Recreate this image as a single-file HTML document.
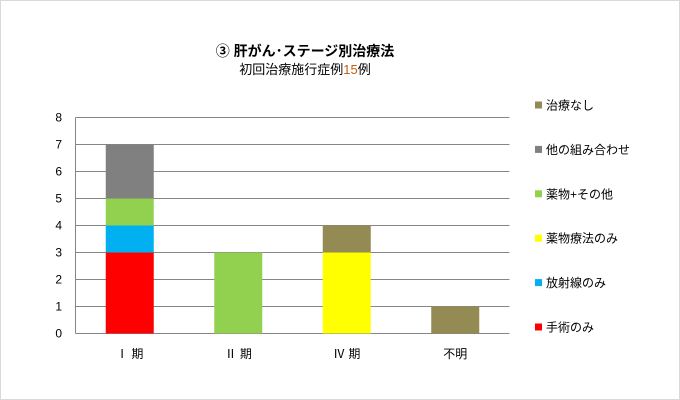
<!DOCTYPE html>
<html><head><meta charset="utf-8"><style>
body{margin:0;background:#fff;}
svg{display:block;font-family:"Liberation Sans","Noto Sans CJK JP",sans-serif;}
</style></head><body>
<svg id="c" width="680" height="400">
<rect x="0.5" y="0.5" width="679" height="399" fill="#fff" stroke="#d9d9d9"/>
<text x="305" y="56" text-anchor="middle" font-size="14" font-weight="bold" fill="#000">③ 肝がん･ステージ別治療法</text>
<text x="305" y="74" text-anchor="middle" font-size="13" fill="#000">初回治療施行症例<tspan fill="#c55a11">15</tspan>例</text>
<g id="grid"></g><g id="bars"></g><g id="axes"></g><g id="legend"></g>
</svg>
<script>
const categories=["Ⅰ 期","Ⅱ 期","Ⅳ 期","不明"];
const seriesNames=["手術のみ","放射線のみ","薬物療法のみ","薬物+その他","他の組み合わせ","治療なし"];
const seriesColors=["#ff0000","#00b0f0","#ffff00","#92d050","#808080","#948a54"];
const s1=[3,0,0,0];
const s2=[1,0,0,0];
const s3=[0,0,3,0];
const s4=[1,3,0,0];
const s5=[2,0,0,0];
const s6=[0,0,1,1];
const series=[s1,s2,s3,s4,s5,s6];
const yTicks=[0,1,2,3,4,5,6,7,8];
const NS="http://www.w3.org/2000/svg";
const L=75.5,R=509.5,T=117.5,B=333.5,yMax=8;
const y=v=>B-(v/yMax)*(B-T);
const bw=(R-L)/categories.length;
const xc=i=>L+bw*(i+0.5);
function mk(t,a,p){const e=document.createElementNS(NS,t);for(const k in a)e.setAttribute(k,a[k]);p.appendChild(e);return e;}
const grid=document.getElementById('grid'),bars=document.getElementById('bars'),axes=document.getElementById('axes'),leg=document.getElementById('legend');
yTicks.forEach(v=>{
 const l=mk('line',{x1:L,x2:R,y1:y(v),y2:y(v),stroke:'#868686','stroke-width':1},grid);
 
 
 const t=mk('text',{x:62,y:y(v)+4,'text-anchor':'end','font-size':12,fill:'#000'},axes);
 t.textContent=v;
 
 
});
const ax=mk('line',{x1:L,x2:L,y1:T,y2:B,stroke:'#868686'},axes);


categories.forEach((c,i)=>{
 let acc=0;
 series.forEach((s,j)=>{
  const v=s[i]; if(!v) return;
  const r=mk('rect',{x:xc(i)-24,width:48,y:y(acc+v),height:y(acc)-y(acc+v),fill:seriesColors[j]},bars);
  
  
  acc+=v;
 });
 const t=mk('text',{x:xc(i),y:358,'text-anchor':'middle','font-size':12,fill:'#000'},axes);
 t.textContent=c;
 
 
});
seriesNames.slice().reverse().forEach((n,k)=>{
 const j=seriesNames.length-1-k;
 const yy=105+k*44.4;
 const g=mk('g',{},leg);
 
 
 mk('rect',{x:535,y:yy-3.5,width:7,height:7,fill:seriesColors[j]},g);
 const t=mk('text',{x:546,y:yy+4.5,'font-size':12,fill:'#000'},g);
 t.textContent=n;
});
</script>
</body></html>
